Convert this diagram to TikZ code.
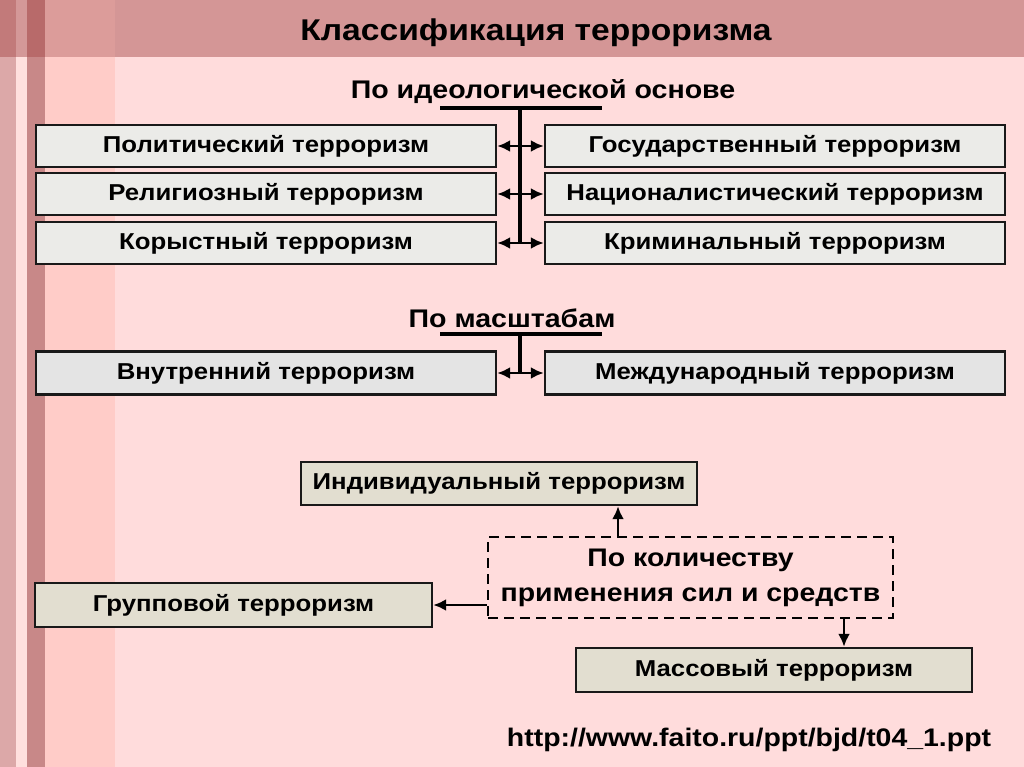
\documentclass[tikz,border=0pt]{standalone}
\usepackage{fontspec}
\setmainfont{Liberation Sans}[FakeStretch=1.12]
\usetikzlibrary{arrows.meta}

\definecolor{bgpink}{HTML}{FFDCDC}
\definecolor{band}{HTML}{D49696}
\definecolor{colA}{HTML}{FFCCC8}
\definecolor{colAtop}{HTML}{DC9C9A}
\definecolor{stripeA}{HTML}{DCA8A8}
\definecolor{stripeAtop}{HTML}{C27A7A}
\definecolor{stripeB}{HTML}{FFE0DE}
\definecolor{stripeBtop}{HTML}{D49898}
\definecolor{stripeC}{HTML}{C88888}
\definecolor{stripeCtop}{HTML}{B86A6A}
\definecolor{stone}{HTML}{EBEBE8}
\definecolor{marble}{HTML}{E4E4E4}
\definecolor{sand}{HTML}{E2DED0}

\tikzset{
    box/.style={draw=black!90, line width=2.4pt, fill=stone, inner sep=0pt,
        minimum width=460pt, minimum height=42pt,
        font=\fontsize{23}{26}\selectfont\bfseries},
    heading/.style={font=\fontsize{25.5}{30}\selectfont\bfseries},
    conn/.style={line width=2.6pt, -{Latex[length=13pt,width=12pt]}},
    biconn/.style={line width=2.6pt, {Latex[length=13pt,width=12pt]}-{Latex[length=13pt,width=12pt]}},
    trunk/.style={line width=3.2pt}
}

\begin{document}
\begin{tikzpicture}[x=1pt,y=-1pt]
    % slide background
    \fill[bgpink] (0,0) rectangle (1024,767);
    \fill[band] (0,0) rectangle (1024,57);
    \fill[colA] (45,57) rectangle (115,767);
    \fill[colAtop] (45,0) rectangle (115,57);
    \fill[stripeA] (0,57) rectangle (16,767);
    \fill[stripeAtop] (0,0) rectangle (16,57);
    \fill[stripeB] (16,57) rectangle (27,767);
    \fill[stripeBtop] (16,0) rectangle (27,57);
    \fill[stripeC] (27,57) rectangle (45,767);
    \fill[stripeCtop] (27,0) rectangle (45,57);
    \useasboundingbox (0,0) rectangle (1024,767);

    \node[font=\fontsize{30}{34}\selectfont\bfseries] (title) at (536,33) {Классификация терроризма};

    % by ideology
    \node[heading] (ideol) at (543,92) {По идеологической основе};
    \node[box] (pol) at (266,146) {Политический терроризм};
    \node[box] (rel) at (266,194) {Религиозный терроризм};
    \node[box] (kor) at (266,243) {Корыстный терроризм};
    \node[box] (gos) at (775,146) {Государственный терроризм};
    \node[box] (nac) at (775,194) {Националистический терроризм};
    \node[box] (krim) at (775,243) {Криминальный терроризм};
    \coordinate (ideolL) at (440,108);
    \coordinate (ideolR) at (602,108);
    \coordinate (ideolM) at (520,108);
    \draw[trunk] (ideolL) -- (ideolR);
    \draw[trunk] (ideolM) -- (ideolM |- kor.east);
    \draw[biconn] (pol.east) -- (gos.west);
    \draw[biconn] (rel.east) -- (nac.west);
    \draw[biconn] (kor.east) -- (krim.west);

    % by scale
    \node[heading] (scale) at (512,318) {По масштабам};
    \node[box, fill=marble, minimum height=43pt] (vnut) at (266,373) {Внутренний терроризм};
    \node[box, fill=marble, minimum height=43pt] (mezh) at (775,373) {Международный терроризм};
    \coordinate (scaleL) at (440,334);
    \coordinate (scaleR) at (602,334);
    \coordinate (scaleM) at (520,334);
    \draw[trunk] (scaleL) -- (scaleR);
    \draw[trunk] (scaleM) -- (scaleM |- vnut.east);
    \draw[biconn] (vnut.east) -- (mezh.west);

    % by quantity
    \node[box, fill=sand, minimum width=396pt, minimum height=43pt] (ind) at (499,483.5) {Индивидуальный терроризм};
    \node[draw, dash pattern=on 10pt off 6pt, line width=2.2pt, minimum width=405pt,
        minimum height=81pt, align=center, font=\fontsize{25.4}{35}\selectfont\bfseries] (kol) at (690.5,577.5)
        {По количеству\\применения сил и средств};
    \node[box, fill=sand, minimum width=397pt, minimum height=44pt] (grp) at (233.5,605) {Групповой терроризм};
    \node[box, fill=sand, minimum width=396pt, minimum height=44pt] (mass) at (774,670) {Массовый терроризм};
    \coordinate (kolN) at (618,537);
    \coordinate (kolS) at (844,618);
    \draw[conn] (kolN) -- (kolN |- ind.south);
    \draw[conn] (kol.west |- grp.east) -- (grp.east);
    \draw[conn] (kolS) -- (kolS |- mass.north);

    \node[font=\fontsize{25.4}{30}\selectfont\bfseries] (url) at (749,740) {http://www.faito.ru/ppt/bjd/t04\_1.ppt};
\end{tikzpicture}
\end{document}
